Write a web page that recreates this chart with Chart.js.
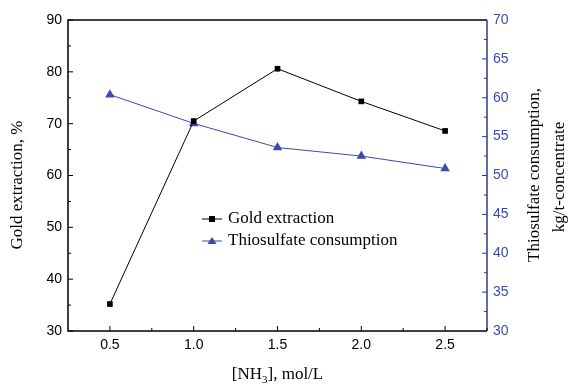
<!DOCTYPE html>
<html>
<head>
<meta charset="utf-8">
<script src="https://cdn.jsdelivr.net/npm/chart.js@4"></script>
<style>
  html, body { margin: 0; padding: 0; background: #fff; }
  #wrap { width: 571px; height: 386px; position: relative; }
</style>
</head>
<body>
<div id="wrap"><canvas id="myChart" width="571" height="386"></canvas></div>
<script>
// data
const nh3 = [0.5, 1.0, 1.5, 2.0, 2.5];
const goldExtraction = [35.2, 70.5, 80.6, 74.3, 68.6];
const thioConsumption = [60.4, 56.7, 53.6, 52.5, 50.9];

const BLUE = "#3a4bab";
const AXIS_BLUE = "#2e3a86";
const SANS = "'Liberation Sans', Arial, sans-serif";
const SERIF = "'Liberation Serif', 'Times New Roman', serif";

// tick marks (inside), axis titles and the legend
const decorPlugin = {
  id: "decor",
  afterDraw(chart) {
    const ctx = chart.ctx;
    const a = chart.chartArea;
    const x = chart.scales.x, y = chart.scales.y, y1 = chart.scales.y1;
    ctx.save();

    // frame
    ctx.lineWidth = 1.5;
    ctx.strokeStyle = "#000";
    ctx.beginPath();
    ctx.moveTo(a.right, a.top); ctx.lineTo(a.left, a.top);
    ctx.lineTo(a.left, a.bottom); ctx.lineTo(a.right, a.bottom);
    ctx.stroke();
    ctx.strokeStyle = AXIS_BLUE;
    ctx.beginPath();
    ctx.moveTo(a.right, a.top); ctx.lineTo(a.right, a.bottom);
    ctx.stroke();

    ctx.lineWidth = 1;
    // x ticks
    ctx.strokeStyle = "#000";
    for (let v = 0.5; v <= 2.75; v += 0.25) {
      const px = x.getPixelForValue(v);
      const len = (Math.round(v * 4) % 2 === 0) ? 5 : 3;
      ctx.beginPath(); ctx.moveTo(px, a.bottom); ctx.lineTo(px, a.bottom - len); ctx.stroke();
    }
    // left ticks
    for (let v = 30; v <= 90; v += 5) {
      const py = y.getPixelForValue(v);
      const len = v % 10 === 0 ? 5 : 3;
      ctx.beginPath(); ctx.moveTo(a.left, py); ctx.lineTo(a.left + len, py); ctx.stroke();
    }
    // right ticks
    ctx.strokeStyle = AXIS_BLUE;
    for (let v = 30; v <= 70; v += 2.5) {
      const py = y1.getPixelForValue(v);
      const len = v % 5 === 0 ? 5 : 3;
      ctx.beginPath(); ctx.moveTo(a.right, py); ctx.lineTo(a.right - len, py); ctx.stroke();
    }

    // axis titles
    ctx.fillStyle = "#000";
    ctx.font = "17px " + SERIF;
    ctx.textAlign = "center";
    ctx.textBaseline = "middle";
    ctx.save();
    ctx.translate(18, 185);
    ctx.rotate(-Math.PI / 2);
    ctx.fillText("Gold extraction, %", 0, 0);
    ctx.restore();

    ctx.save();
    ctx.translate(535, 175);
    ctx.rotate(-Math.PI / 2);
    ctx.fillText("Thiosulfate consumption,", 0, 0);
    ctx.restore();
    ctx.save();
    ctx.translate(560, 177);
    ctx.rotate(-Math.PI / 2);
    ctx.fillText("kg/t-concentrate", 0, 0);
    ctx.restore();

    // x title with subscript
    ctx.textAlign = "left";
    ctx.textBaseline = "alphabetic";
    const p1 = "[NH", p2 = "3", p3 = "], mol/L";
    ctx.font = "17px " + SERIF;
    const w1 = ctx.measureText(p1).width, w3 = ctx.measureText(p3).width;
    ctx.font = "11px " + SERIF;
    const w2 = ctx.measureText(p2).width;
    let sx = (a.left + a.right) / 2 - (w1 + w2 + w3) / 2;
    ctx.font = "17px " + SERIF;
    ctx.fillText(p1, sx, 379);
    ctx.font = "11px " + SERIF;
    ctx.fillText(p2, sx + w1, 383);
    ctx.font = "17px " + SERIF;
    ctx.fillText(p3, sx + w1 + w2, 379);

    // legend
    const items = [
      { label: "Gold extraction", color: "#000", shape: "rect" },
      { label: "Thiosulfate consumption", color: BLUE, shape: "tri" }
    ];
    items.forEach((it, i) => {
      const ly = 219 + i * 22;
      ctx.strokeStyle = it.color;
      ctx.fillStyle = it.color;
      ctx.lineWidth = 1;
      ctx.beginPath(); ctx.moveTo(202, ly); ctx.lineTo(222, ly); ctx.stroke();
      if (it.shape === "rect") {
        ctx.fillRect(209, ly - 3, 6, 6);
      } else {
        ctx.beginPath();
        ctx.moveTo(212, ly - 4); ctx.lineTo(216.5, ly + 3); ctx.lineTo(207.5, ly + 3);
        ctx.closePath(); ctx.fill();
      }
      ctx.fillStyle = "#000";
      ctx.font = "17px " + SERIF;
      ctx.textBaseline = "middle";
      ctx.fillText(it.label, 228, ly);
    });
    ctx.restore();
  }
};

new Chart(document.getElementById("myChart").getContext("2d"), {
  type: "line",
  data: {
    datasets: [
      {
        label: "Gold extraction",
        data: nh3.map((v, i) => ({ x: v, y: goldExtraction[i] })),
        yAxisID: "y",
        borderColor: "#000",
        backgroundColor: "#000",
        borderWidth: 1,
        pointStyle: "rect",
        pointRadius: 4,
        pointBorderWidth: 0,
        tension: 0,
      },
      {
        label: "Thiosulfate consumption",
        data: nh3.map((v, i) => ({ x: v, y: thioConsumption[i] })),
        yAxisID: "y1",
        borderColor: BLUE,
        backgroundColor: BLUE,
        borderWidth: 1,
        pointStyle: "triangle",
        pointRadius: 5.5,
        pointBorderWidth: 0,
        tension: 0,
      },
    ],
  },
  options: {
    responsive: false,
    animation: false,
    layout: { padding: { top: 20, left: 0, right: 0, bottom: 0 } },
    plugins: { legend: { display: false }, tooltip: { enabled: false } },
    scales: {
      x: {
        type: "linear",
        min: 0.25,
        max: 2.75,
        grid: { display: false, drawTicks: false },
        border: { display: false },
        afterFit: (s) => { s.height = 55; },
        afterBuildTicks: (s) => { s.ticks = nh3.map((v) => ({ value: v })); },
        ticks: {
          padding: 6,
          color: "#000",
          font: { family: SANS, size: 14 },
          callback: (v) => Number(v).toFixed(1),
        },
      },
      y: {
        position: "left",
        min: 30,
        max: 90,
        grid: { display: false, drawTicks: false },
        border: { display: false },
        afterFit: (s) => { s.width = 68; },
        ticks: {
          stepSize: 10,
          padding: 6,
          color: "#000",
          font: { family: SANS, size: 14 },
        },
      },
      y1: {
        position: "right",
        min: 30,
        max: 70,
        grid: { display: false, drawTicks: false },
        border: { display: false },
        afterFit: (s) => { s.width = 84; },
        ticks: {
          stepSize: 5,
          padding: 6,
          color: BLUE,
          font: { family: SANS, size: 14 },
        },
      },
    },
  },
  plugins: [decorPlugin],
});
</script>
</body>
</html>
